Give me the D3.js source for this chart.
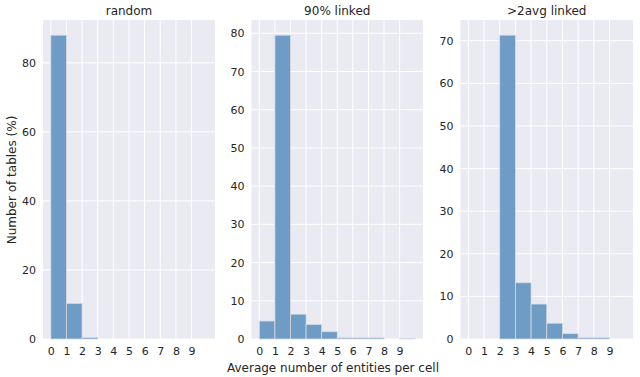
<!DOCTYPE html>
<html>
<head>
<meta charset="utf-8">
<script src="https://cdn.jsdelivr.net/npm/d3@7"></script>
<style>
  body { margin: 0; background: #fff; }
  svg text { font-family: "DejaVu Sans", sans-serif; fill: #262626; }
</style>
</head>
<body>
<svg id="chart"></svg>
<script>
// bins are [k, k+1), values are percent of tables
const bins = [0, 1, 2, 3, 4, 5, 6, 7, 8, 9];
const titles = ["random", "90% linked", ">2avg linked"];
const randomVals = [88.0, 10.3, 0.4, 0, 0, 0, 0, 0, 0, 0];
const linked90Vals = [4.7, 79.5, 6.5, 3.8, 1.9, 0.3, 0.3, 0.3, 0, 0.1];
const avg2Vals = [0, 0, 71.3, 13.2, 8.2, 3.7, 1.25, 0.3, 0.3, 0];
const yTicks = [
    [0, 20, 40, 60, 80],
    [0, 10, 20, 30, 40, 50, 60, 70, 80],
    [0, 10, 20, 30, 40, 50, 60, 70]
];
const xTickLabels = ["0", "1", "2", "3", "4", "5", "6", "7", "8", "9"];

const width = 640, height = 377;
const svg = d3.select("#chart").attr("width", width).attr("height", height);

// plot areas, left / right edges
const panels = [
    { x0: 43, x1: 215 },
    { x0: 251.5, x1: 423 },
    { x0: 460.5, x1: 633 }
];
const plotTop = 20, plotBottom = 339;
const allVals = [randomVals, linked90Vals, avg2Vals];

panels.forEach((p, k) => {
    const vals = allVals[k];
    const g = svg.append("g");

    var x = d3.scaleLinear().domain([-0.5, 10.5]).range([p.x0, p.x1]);
    var y = d3.scaleLinear().domain([0, d3.max(vals) * 1.05]).range([plotBottom, plotTop]);

    g.append("rect")
        .attr("x", p.x0).attr("y", plotTop)
        .attr("width", p.x1 - p.x0).attr("height", plotBottom - plotTop)
        .attr("fill", "#eaeaf2");

    // grid
    g.selectAll(".hgrid").data(yTicks[k]).enter().append("line")
        .attr("x1", p.x0).attr("x2", p.x1)
        .attr("y1", d => y(d)).attr("y2", d => y(d))
        .attr("stroke", "#fff").attr("stroke-width", 1);
    g.selectAll(".vgrid").data(bins).enter().append("line")
        .attr("y1", plotTop).attr("y2", plotBottom)
        .attr("x1", d => x(d)).attr("x2", d => x(d))
        .attr("stroke", "#fff").attr("stroke-width", 1);

    // bars
    g.selectAll(".bar").data(vals).enter().append("rect")
        .attr("x", (d, i) => x(bins[i]))
        .attr("width", x(1) - x(0))
        .attr("y", d => y(d))
        .attr("height", d => plotBottom - y(d))
        .attr("fill", "#6f9cc5")
        .attr("stroke", "#d6d9e2")
        .attr("stroke-width", d => d > 0 ? 0.8 : 0);

    // axes
    const xa = g.append("g").attr("transform", "translate(0," + plotBottom + ")")
        .call(d3.axisBottom(x).tickValues(bins).tickFormat((d, i) => xTickLabels[i]).tickSize(0).tickPadding(8));
    const ya = g.append("g").attr("transform", "translate(" + p.x0 + ",0)")
        .call(d3.axisLeft(y).tickValues(yTicks[k]).tickSize(0).tickPadding(7));
    [xa, ya].forEach(a => {
        a.select(".domain").remove();
        a.selectAll("text").style("font-size", "11px").attr("fill", "#262626");
    });

    g.append("text")
        .attr("x", (p.x0 + p.x1) / 2).attr("y", 15)
        .attr("text-anchor", "middle")
        .style("font-size", "12px")
        .text(titles[k]);
});

svg.append("text")
    .attr("transform", "rotate(-90)")
    .attr("x", -180).attr("y", 16)
    .attr("text-anchor", "middle")
    .style("font-size", "12px")
    .text("Number of tables (%)");

svg.append("text")
    .attr("x", 333).attr("y", 372)
    .attr("text-anchor", "middle")
    .style("font-size", "12px")
    .text("Average number of entities per cell");
</script>
</body>
</html>
